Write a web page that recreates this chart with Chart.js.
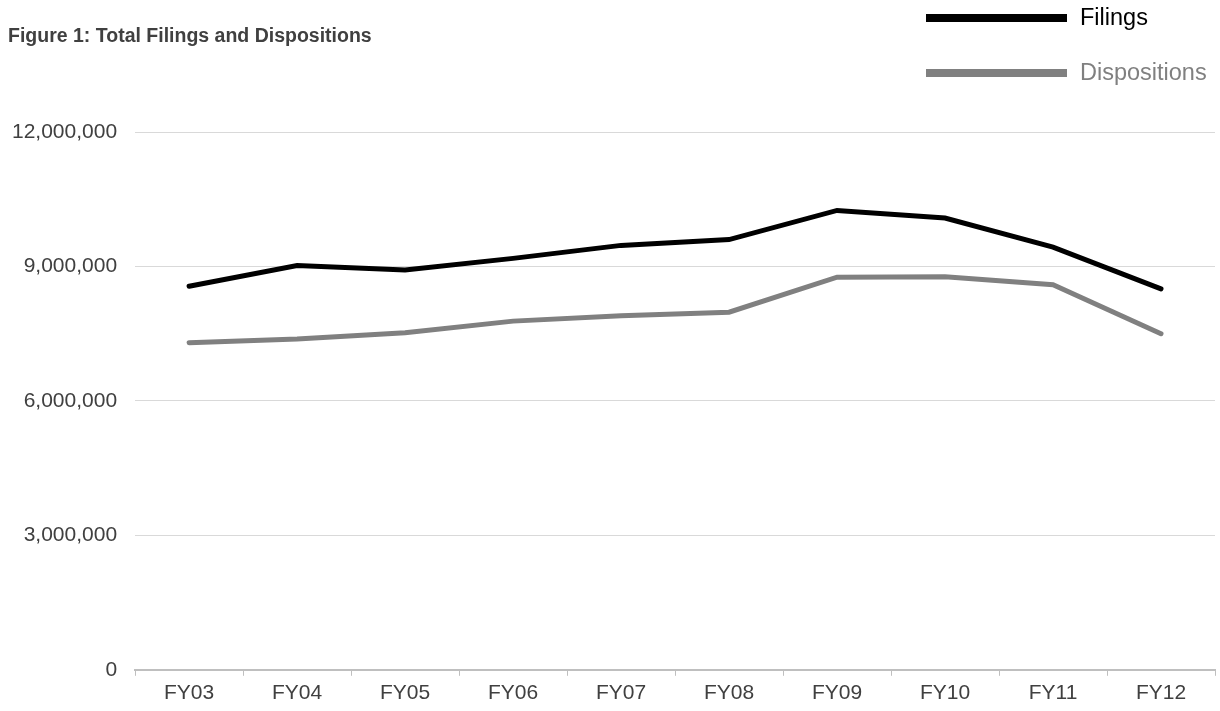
<!DOCTYPE html>
<html>
<head>
<meta charset="utf-8">
<script src="https://cdn.jsdelivr.net/npm/chart.js@4.4.0/dist/chart.umd.min.js"></script>
<style>
  html, body { margin: 0; padding: 0; background: #fff; }
  body { width: 1220px; height: 711px; position: relative; overflow: hidden;
         font-family: "Liberation Sans", Arial, sans-serif; }
  #wrap { position: absolute; left: -6px; top: 0; width: 1226px; height: 711px; }
  .title { position: absolute; left: 8px; top: 24px; font-size: 19.5px; font-weight: bold; color: #404040; }
  .legend { position: absolute; left: 926px; font-size: 23.5px; display: flex; align-items: center; }
  .legend .swatch { width: 141px; height: 8px; margin-right: 13px; }
</style>
</head>
<body>
<div id="wrap"><canvas id="chart"></canvas></div>
<div class="title">Figure 1: Total Filings and Dispositions</div>
<div class="legend" style="top:4px;color:#000"><span class="swatch" style="background:#000"></span>Filings</div>
<div class="legend" style="top:59px;color:#808080"><span class="swatch" style="background:#808080"></span>Dispositions</div>
<script>
// data
const years = ["FY03", "FY04", "FY05", "FY06", "FY07", "FY08", "FY09", "FY10", "FY11", "FY12"];
const filings = [8560000, 9020000, 8920000, 9180000, 9470000, 9600000, 10250000, 10080000, 9430000, 8500000];
const dispositions = [7300000, 7380000, 7520000, 7780000, 7900000, 7980000, 8760000, 8770000, 8590000, 7500000];
const yTicks = [0, 3000000, 6000000, 9000000, 12000000];

Chart.defaults.font.family = '"Liberation Sans", Arial, sans-serif';
Chart.defaults.font.size = 21;
Chart.defaults.color = "#404040";

new Chart(document.getElementById("chart").getContext("2d"), {
  type: "line",
  data: {
    labels: years,
    datasets: [
      { label: "Filings", data: filings, borderColor: "#000000", borderWidth: 5,
        pointRadius: 0, tension: 0, borderCapStyle: "round" },
      { label: "Dispositions", data: dispositions, borderColor: "#808080", borderWidth: 5,
        pointRadius: 0, tension: 0, borderCapStyle: "round" },
    ],
  },
  options: {
    responsive: true,
    maintainAspectRatio: false,
    animation: false,
    layout: { padding: { top: 132, right: 5, left: 0, bottom: 0 } },
    plugins: { legend: { display: false }, tooltip: { enabled: false } },
    scales: {
      x: {
        offset: true,
        grid: { offset: true, drawOnChartArea: false, drawTicks: true, tickLength: 6, tickColor: "#bfbfbf" },
        border: { color: "#bfbfbf", width: 2 },
        ticks: { padding: 5, color: "#404040" },
      },
      y: {
        min: 0,
        max: 12000000,
        afterBuildTicks: (axis) => { axis.ticks = yTicks.map(v => ({ value: v })); },
        grid: { color: "#d9d9d9", drawTicks: false },
        border: { display: false },
        ticks: { padding: 18, color: "#404040", callback: v => v.toLocaleString("en-US") },
      },
    },
  },
});
</script>
</body>
</html>
